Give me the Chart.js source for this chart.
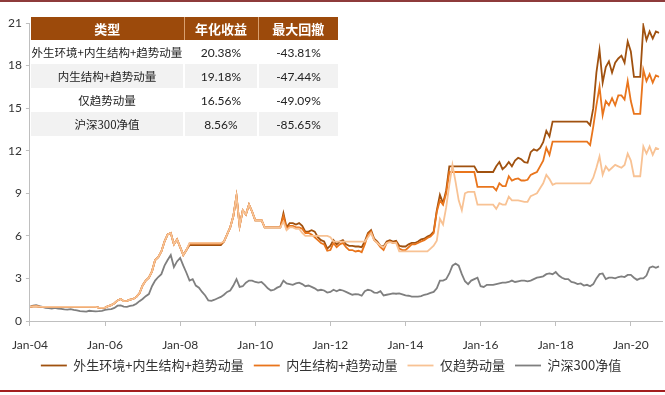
<!DOCTYPE html>
<html>
<head>
<meta charset="utf-8">
<script src="https://cdn.jsdelivr.net/npm/chart.js@4.4.1/dist/chart.umd.min.js"></script>
<style>
body { margin: 0; background: #fff; }
#wrap { position: relative; width: 665px; height: 395px; }
#topline { position: absolute; left: 0; top: 0; width: 665px; height: 2px; background: #8e3b3b; }
#botline { position: absolute; left: 0; top: 390px; width: 665px; height: 2px; background: #a31f1f; }
#stats { position: absolute; left: 31px; top: 17px; border-collapse: collapse; table-layout: fixed; width: 307px; }
#stats th { background: #9c4a0b; color: #fff; font: bold 13px "Noto Sans CJK SC", sans-serif; height: 23px; padding: 0; }
#stats th + th { border-left: 1px solid #d9a070; }
#stats td { height: 24px; padding: 0; text-align: center; color: #222; font: 12px Lato, sans-serif; }
#stats td + td { border-left: 2px solid #fff; }
#stats td.cn { font: 11.5px "Noto Sans CJK SC", sans-serif; }
#stats tr.g td { background: #f2f2f2; }
</style>
</head>
<body>
<div id="wrap">
  <canvas id="lineChart" width="665" height="395"></canvas>
  <div id="topline"></div>
  <div id="botline"></div>
  <table id="stats">
    <colgroup><col style="width:153px"><col style="width:74px"><col style="width:80px"></colgroup>
    <thead><tr><th>类型</th><th>年化收益</th><th>最大回撤</th></tr></thead>
    <tbody id="table-body"></tbody>
  </table>
</div>
<script>
// series names (legend order)
var seriesNames = ["外生环境+内生结构+趋势动量", "内生结构+趋势动量", "仅趋势动量", "沪深300净值"];
var annualReturn = ["20.38%", "19.18%", "16.56%", "8.56%"];
var maxDrawdown = ["-43.81%", "-47.44%", "-49.09%", "-85.65%"];

// monthly net values, Jan-2004 .. Oct-2020
var fullModel = [
    1.00, 1.03, 1.04, 1.01, 1.00, 1.00, 1.00, 1.00, 1.00, 1.00, 1.00, 1.00,
    1.00, 1.00, 1.00, 1.00, 1.00, 1.00, 1.00, 1.00, 1.00, 1.00, 0.95, 0.92,
    0.95, 1.05, 1.12, 1.25, 1.45, 1.55, 1.40, 1.42, 1.50, 1.55, 1.70, 1.95,
    2.50, 2.85, 3.05, 3.50, 4.30, 4.50, 4.90, 5.60, 6.10, 6.20, 5.40, 5.75,
    5.20, 4.65, 5.00, 5.35, 5.35, 5.35, 5.35, 5.35, 5.35, 5.35, 5.35, 5.35,
    5.35, 5.35, 5.60, 6.10, 6.60, 7.40, 8.80, 6.70, 7.80, 7.50, 8.20, 7.70,
    7.10, 7.10, 7.10, 6.60, 6.60, 6.60, 6.60, 6.60, 6.60, 7.60, 6.60, 6.90,
    6.90, 6.80, 6.90, 6.70, 6.30, 6.30, 6.40, 6.30, 5.90, 5.70, 5.60, 5.10,
    5.30, 5.70, 5.40, 5.60, 5.70, 5.40, 5.30, 5.30, 5.25, 5.25, 5.20, 5.60,
    6.20, 6.40, 5.80, 5.60, 5.30, 5.25, 5.60, 5.70, 5.60, 5.65, 5.30, 5.25,
    5.25, 5.40, 5.50, 5.50, 5.60, 5.75, 5.80, 5.95, 6.05, 6.30, 7.80, 8.90,
    8.30, 9.20, 10.9, 10.9, 10.9, 10.9, 10.9, 10.9, 10.9, 10.9, 10.9, 10.5,
    10.5, 10.5, 10.5, 10.5, 10.5, 10.9, 11.2, 10.7, 10.9, 11.2, 10.9, 11.3,
    11.5, 11.4, 11.2, 11.15, 11.9, 12.1, 12.0, 12.2, 12.6, 13.4, 13.0, 14.05,
    14.05, 14.05, 14.05, 14.05, 14.05, 14.05, 14.05, 14.05, 14.05, 14.05, 14.05, 13.8,
    15.0, 17.5, 19.1, 16.8, 17.9, 18.3, 17.5, 18.2, 18.5, 18.7, 18.2, 19.7,
    19.0, 17.2, 17.2, 17.2, 20.8, 19.8, 20.4, 19.9, 20.4, 20.3
];
var innerModel = [
    1.00, 1.03, 1.04, 1.01, 1.00, 1.00, 1.00, 1.00, 1.00, 1.00, 1.00, 1.00,
    1.00, 1.00, 1.00, 1.00, 1.00, 1.00, 1.00, 1.00, 1.00, 1.00, 0.95, 0.92,
    0.95, 1.05, 1.12, 1.25, 1.45, 1.55, 1.40, 1.42, 1.50, 1.55, 1.70, 1.95,
    2.50, 2.85, 3.05, 3.50, 4.30, 4.50, 4.90, 5.60, 6.10, 6.20, 5.40, 5.75,
    5.20, 4.65, 5.00, 5.45, 5.45, 5.45, 5.45, 5.45, 5.45, 5.45, 5.45, 5.45,
    5.45, 5.45, 5.60, 6.10, 6.60, 7.40, 8.80, 6.70, 7.80, 7.50, 8.20, 7.70,
    7.10, 7.10, 7.10, 6.60, 6.60, 6.60, 6.60, 6.60, 6.60, 7.40, 6.50, 6.70,
    6.70, 6.60, 6.60, 6.50, 6.20, 6.20, 6.10, 5.90, 5.70, 5.50, 5.40, 4.95,
    5.00, 5.50, 5.20, 5.40, 5.50, 5.20, 5.00, 5.00, 4.90, 4.95, 4.85, 5.40,
    6.10, 6.30, 5.70, 5.50, 5.20, 5.00, 5.50, 5.60, 5.50, 5.55, 5.10, 5.00,
    5.00, 5.20, 5.40, 5.40, 5.50, 5.60, 5.70, 5.85, 5.95, 6.20, 7.70, 8.50,
    8.20, 9.00, 10.5, 10.5, 10.5, 10.5, 10.5, 10.5, 10.5, 10.5, 10.5, 9.45,
    9.45, 9.45, 9.45, 9.45, 9.45, 9.20, 9.70, 9.50, 9.50, 10.2, 9.90, 10.0,
    10.05, 9.90, 9.90, 9.95, 10.3, 10.4, 10.5, 10.9, 11.3, 12.2, 11.7, 12.64,
    12.64, 12.64, 12.64, 12.64, 12.64, 12.64, 12.64, 12.64, 12.64, 12.64, 12.64, 12.4,
    13.7, 15.2, 16.5, 14.5, 15.5, 15.2, 15.7, 15.2, 15.9, 15.9, 15.6, 16.9,
    15.5, 14.6, 14.6, 14.6, 17.7, 16.9, 17.4, 16.8, 17.3, 17.2
];
var trendOnly = [
    1.00, 1.03, 1.04, 1.01, 1.00, 1.00, 1.00, 1.00, 1.00, 1.00, 1.00, 1.00,
    1.00, 1.00, 1.00, 1.00, 1.00, 1.00, 1.00, 1.00, 1.00, 1.00, 0.95, 0.92,
    0.95, 1.05, 1.12, 1.25, 1.45, 1.55, 1.40, 1.42, 1.50, 1.55, 1.70, 1.95,
    2.50, 2.85, 3.05, 3.50, 4.30, 4.50, 4.90, 5.60, 6.10, 6.20, 5.40, 5.75,
    5.20, 4.65, 5.00, 5.50, 5.50, 5.50, 5.50, 5.50, 5.50, 5.50, 5.50, 5.50,
    5.50, 5.50, 5.60, 6.10, 6.60, 7.40, 8.80, 6.70, 7.80, 7.50, 8.20, 7.70,
    7.10, 7.10, 7.10, 6.60, 6.60, 6.60, 6.60, 6.60, 6.60, 7.00, 6.40, 6.60,
    6.60, 6.50, 6.50, 6.20, 6.00, 6.00, 6.00, 6.00, 6.00, 6.00, 6.00, 6.00,
    5.90, 5.60, 5.60, 5.60, 5.60, 5.60, 5.60, 5.60, 5.60, 5.60, 5.60, 5.60,
    5.90, 6.20, 5.70, 5.50, 5.30, 5.20, 5.50, 5.55, 5.50, 5.50, 4.90, 4.90,
    4.90, 4.90, 4.90, 4.90, 4.90, 4.90, 4.90, 4.90, 5.10, 5.30, 5.66, 7.20,
    6.80, 8.00, 9.60, 11.0, 9.80, 8.50, 7.80, 9.00, 9.10, 9.10, 9.10, 8.20,
    8.20, 8.20, 8.20, 8.20, 8.20, 7.90, 8.30, 8.20, 8.20, 8.76, 8.50, 8.50,
    8.50, 8.45, 8.40, 8.40, 8.80, 8.90, 9.00, 9.35, 9.70, 10.3, 10.0, 9.60,
    9.70, 9.70, 9.70, 9.70, 9.70, 9.70, 9.70, 9.70, 9.70, 9.70, 9.70, 9.70,
    10.1, 10.8, 11.6, 10.3, 10.9, 10.6, 10.8, 11.0, 10.9, 10.8, 11.0, 11.8,
    11.3, 10.2, 10.2, 10.2, 12.3, 11.8, 12.3, 11.7, 12.2, 12.1
];
var hs300 = [
    1.00, 1.08, 1.12, 1.05, 1.00, 0.93, 0.90, 0.88, 0.92, 0.87, 0.86, 0.82,
    0.80, 0.83, 0.78, 0.75, 0.70, 0.68, 0.66, 0.72, 0.70, 0.68, 0.69, 0.72,
    0.78, 0.82, 0.84, 0.92, 1.08, 1.10, 1.02, 1.00, 1.06, 1.10, 1.22, 1.40,
    1.55, 1.75, 1.90, 2.45, 2.85, 3.10, 3.30, 3.90, 4.30, 4.65, 3.80, 4.20,
    4.45, 3.90, 3.40, 2.85, 2.95, 2.50, 2.35, 2.05, 1.80, 1.45, 1.42, 1.50,
    1.60, 1.70, 1.85, 2.05, 2.15, 2.50, 2.95, 2.40, 2.45, 2.70, 2.85, 2.85,
    2.75, 2.70, 2.75, 2.55, 2.30, 2.15, 2.20, 2.35, 2.45, 2.85, 2.65, 2.60,
    2.55, 2.65, 2.70, 2.60, 2.45, 2.50, 2.40, 2.30, 2.15, 2.20, 2.15, 2.00,
    2.05, 2.20, 2.10, 2.20, 2.15, 2.05, 1.95, 1.85, 1.90, 1.88, 1.78, 2.10,
    2.20, 2.15, 2.00, 1.98, 2.10, 1.80, 1.85, 1.90, 1.95, 1.92, 1.95, 1.88,
    1.80, 1.78, 1.72, 1.72, 1.72, 1.75, 1.85, 1.90, 1.98, 2.05, 2.30, 2.85,
    2.85, 2.95, 3.35, 3.90, 4.05, 3.90, 3.30, 2.80, 2.60, 2.85, 2.95, 3.05,
    2.45, 2.40, 2.55, 2.55, 2.55, 2.60, 2.65, 2.70, 2.70, 2.75, 2.85, 2.75,
    2.80, 2.85, 2.85, 2.80, 2.85, 2.95, 3.05, 3.10, 3.15, 3.30, 3.35, 3.30,
    3.45, 3.20, 3.05, 2.95, 2.95, 2.75, 2.70, 2.60, 2.65, 2.50, 2.55, 2.45,
    2.60, 3.00, 3.30, 3.35, 2.95, 3.05, 3.05, 3.00, 3.10, 3.15, 3.10, 3.25,
    3.25, 3.05, 2.90, 3.00, 3.00, 3.20, 3.75, 3.85, 3.75, 3.85
];
var yearTicks = [2004, 2006, 2008, 2010, 2012, 2014, 2016, 2018, 2020];

// month positions on the time axis (fractional years)
var months = [];
for (var i = 0; i < fullModel.length; i++) {
    months.push(2004 + i / 12);
}

function toPoints(values) {
    return values.map((v, i) => ({ x: months[i], y: v }));
}

let tableData = "";
seriesNames.forEach((name, i) => {
    tableData += `<tr${i % 2 ? ' class="g"' : ""}>
        <td class="cn">${name}</td>
        <td>${annualReturn[i]}</td>
        <td>${maxDrawdown[i]}</td>
    </tr>`;
});
document.getElementById("table-body").innerHTML = tableData;

const colors = ["#a0510f", "#e9751c", "#f8c294", "#7f7f7f"];
const seriesData = [fullModel, innerModel, trendOnly, hs300];
const drawOrder = [2, 1, 0, 3];

const ctx = document.getElementById("lineChart").getContext("2d");
const lineChart = new Chart(ctx, {
    type: "line",
    data: {
        datasets: seriesNames.map((name, i) => ({
            label: name,
            data: toPoints(seriesData[i]),
            borderColor: colors[i],
            backgroundColor: colors[i],
            borderWidth: 1.8,
            pointRadius: 0,
            tension: 0,
            order: drawOrder[i],
        })),
    },
    options: {
        responsive: false,
        animation: false,
        layout: { padding: { top: 23, right: 3, bottom: 13, left: 0 } },
        plugins: {
            tooltip: { enabled: false },
            legend: {
                position: "bottom",
                labels: {
                    usePointStyle: true,
                    pointStyle: "line",
                    pointStyleWidth: 26,
                    padding: 10,
                    color: "#333",
                    font: { family: "'Noto Sans CJK SC'", size: 13 },
                    sort: (a, b) => a.datasetIndex - b.datasetIndex,
                },
            },
        },
        scales: {
            x: {
                type: "linear",
                min: 2004,
                max: 2020.83,
                afterFit: (scale) => { scale.height = 28; },
                afterBuildTicks: (scale) => {
                    scale.ticks = yearTicks.map((v) => ({ value: v }));
                },
                grid: { drawOnChartArea: false, tickLength: 5, color: "#bfbfbf" },
                border: { color: "#bfbfbf" },
                ticks: {
                    padding: 12,
                    maxRotation: 0,
                    color: "#333",
                    font: { family: "Lato", size: 12 },
                    callback: (v) => "Jan-" + String(v).slice(2),
                },
            },
            y: {
                min: 0,
                max: 21,
                afterFit: (scale) => { scale.width = 28; },
                grid: { drawOnChartArea: false, tickLength: 4, color: "#bfbfbf" },
                border: { color: "#bfbfbf" },
                ticks: {
                    stepSize: 3,
                    padding: 4,
                    color: "#333",
                    font: { family: "Lato", size: 12 },
                },
            },
        },
    },
});
</script>
</body>
</html>
